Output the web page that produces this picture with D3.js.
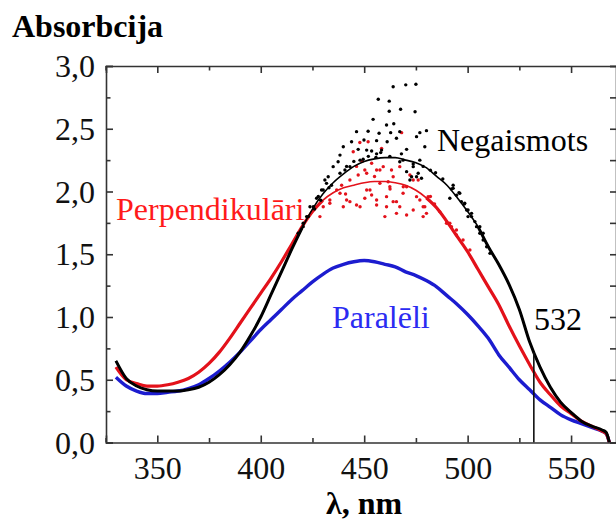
<!DOCTYPE html>
<html>
<head>
<meta charset="utf-8">
<script src="https://cdn.jsdelivr.net/npm/d3@7/dist/d3.min.js"></script>
<style>
  html, body { margin: 0; padding: 0; background: #fff; }
  svg { display: block; }
</style>
</head>
<body>
<svg id="chart" width="616" height="520"></svg>
<script>
// ---------- DATA ----------
const wavelengths = [330,335,340,345,350,355,360,365,370,375,380,385,390,395,400,405,410,415,420,425,430,435,440,445,450,455,460,465,470,475,480,485,490,495,500,505,510,515,520,525,530,535,540,545,550,555,560,565,567,568.5];

const negaismots = [0.65,0.51,0.45,0.42,0.41,0.41,0.41,0.42,0.44,0.48,0.54,0.62,0.72,0.85,1.00,1.18,1.36,1.54,1.71,1.86,1.98,2.07,2.14,2.20,2.24,2.26,2.27,2.27,2.25,2.23,2.19,2.12,2.05,1.95,1.84,1.72,1.56,1.42,1.26,1.06,0.80,0.60,0.44,0.32,0.24,0.17,0.13,0.10,0.08,0.0];

const perpendikulari = [0.60,0.50,0.47,0.45,0.45,0.46,0.48,0.51,0.56,0.63,0.72,0.83,0.95,1.07,1.19,1.31,1.44,1.58,1.72,1.84,1.93,1.99,2.03,2.05,2.07,2.08,2.08,2.07,2.05,2.01,1.95,1.87,1.76,1.64,1.52,1.38,1.24,1.10,0.93,0.77,0.62,0.48,0.38,0.29,0.23,0.17,0.13,0.09,0.07,0.0];

const paraleli = [0.52,0.45,0.41,0.39,0.39,0.40,0.41,0.43,0.46,0.51,0.57,0.64,0.72,0.81,0.90,0.98,1.06,1.14,1.21,1.28,1.34,1.39,1.42,1.44,1.45,1.44,1.42,1.40,1.36,1.33,1.29,1.24,1.17,1.10,1.02,0.93,0.83,0.70,0.60,0.50,0.42,0.34,0.28,0.22,0.18,0.15,0.12,0.09,0.07,0.0];

// scattered measured points (Negaismots) near the maximum
const blackDotsX = [464.0,470.1,475.0,456.8,462.1,462.1,467.6,474.6,454.3,464.3,460.8,446.3,451.9,457.2,462.8,467.2,476.9,480.1,475.3,443.9,449.9,456.0,461.1,465.6,479.3,439.9,447.1,453.6,458.4,470.5,438.3,437.4,449.5,455.7,467.2,473.7,470.5,475.3,477.7,472.1,435.0,432.6,431.0,434.2,429.4,427.0,440.7,443.1,493.0,494.6,491.4,497.0,499.5,501.9,500.2,503.5,505.9,507.5,423.8,422.2,420.5,492.2,495.8,498.4,488.0,484.5,482.0,452.0,458.0,445.0,468.0,426.0,429.0,433.0,
  438.3,441.5,448.0,451.2,456.0,462.4,468.8,473.7,476.9,478.5,476.1,472.9,431.8,430.2,427.8,425.4,423.0,420.5,418.1,493.0,496.2,498.6,500.2,501.9,504.3,505.9,507.5,509.2,510.8];
const blackDotsY = [2.835,2.85,2.855,2.735,2.72,2.64,2.655,2.636,2.575,2.54,2.53,2.477,2.48,2.464,2.469,2.477,2.469,2.485,2.437,2.397,2.41,2.405,2.397,2.424,2.357,2.357,2.336,2.323,2.33,2.336,2.29,2.237,2.257,2.272,2.237,2.198,2.158,2.118,2.105,2.092,2.198,2.118,2.092,2.05,2.012,1.946,2.171,2.198,2.05,1.97,1.946,1.919,1.853,1.826,1.80,1.76,1.72,1.667,1.879,1.80,1.72,2.02,1.99,1.90,2.10,2.15,2.17,2.28,2.31,2.24,2.30,1.86,1.93,2.03,
  2.145,2.20,2.25,2.33,2.30,2.28,2.25,2.22,2.25,2.20,2.145,2.118,2.065,2.012,1.96,1.879,1.80,1.747,1.667,2.025,1.986,1.906,1.853,1.80,1.72,1.667,1.614,1.56,1.507];

// scattered measured points (Perpendikulāri) near the maximum
const redDotsX = [468.1,447.9,451.9,458.4,444.7,453.6,459.2,463.2,467.2,450.3,456.0,447.1,443.1,439.1,436.7,433.4,430.2,451.2,453.6,450.3,456.0,460.8,464.0,467.2,470.5,473.7,478.5,479.3,460.0,465.6,446.3,443.1,439.9,457.6,461.6,472.1,476.1,468.9,476.9,480.9,489.8,492.2,494.6,484.0,486.5,482.0,455.0,462.5,449.0,441.0,
  446.3,451.2,457.6,464.0,470.5,456.0,460.8,465.6,475.3,478.5,480.1,441.5,438.3,433.4,428.6,448.0,452.8,462.4,468.8,473.7,491.4,494.6,497.8,501.1];
const redDotsY = [2.469,2.39,2.397,2.344,2.317,2.225,2.198,2.171,2.198,2.171,2.171,2.131,2.092,2.05,2.012,1.932,1.879,2.012,1.972,1.946,1.892,1.959,1.919,1.879,1.813,1.853,1.80,1.879,1.80,1.826,1.892,1.919,1.879,2.065,2.078,2.131,2.092,2.038,1.932,1.959,1.747,1.72,1.653,1.90,1.84,1.96,2.12,2.02,2.24,1.98,
  2.20,2.145,2.171,2.118,2.038,1.932,1.879,1.919,1.959,1.879,1.826,1.932,1.986,1.906,1.80,1.879,2.012,2.038,1.986,2.092,1.747,1.693,1.614,1.534];

const xTickValues = [325,350,375,400,425,450,475,500,525,550];
const xLabelValues = [350,400,450,500,550];
const yTickValues = [0,0.25,0.5,0.75,1,1.25,1.5,1.75,2,2.25,2.5,2.75,3];
const yLabelValues = [0,0.5,1,1.5,2,2.5,3];
const markerWavelength = 532;

const titleY = "Absorbcija";
const titleX = "λ, nm";
const labelNeg = "Negaismots";
const labelPerp = "Perpendikulāri";
const labelPar = "Paralēli";

// ---------- DRAW ----------
const SERIF = "Liberation Serif";
const FS = 32;
const svg = d3.select("#chart").attr("font-family", SERIF);
const L = 106, R = 617, T = 66, B = 442.5;

const x = d3.scaleLinear().domain([325.2, 572.2]).range([L, R]);
const y = d3.scaleLinear().domain([0, 3]).range([B, T]);

const locale = d3.formatLocale({decimal: ",", thousands: " ", grouping: [3], currency: ["", ""]});
const fmt1 = locale.format(".1f");

const colBlack = "#000000", colRed = "#e3121b", colBlue = "#1c1ccf";

svg.append("clipPath").attr("id", "clip")
  .append("rect").attr("x", L).attr("y", T).attr("width", R - L).attr("height", B - T);

const plot = svg.append("g").attr("clip-path", "url(#clip)");

function seriesData(vals) { return wavelengths.map((w, i) => ({w, v: vals[i]})); }

const line = d3.line().x(d => x(d.w)).y(d => y(d.v)).curve(d3.curveMonotoneX);
const lineDef = d3.line().defined(d => d.on).x(d => x(d.w)).y(d => y(d.v)).curve(d3.curveMonotoneX);

// blue (Paralēli) measured - thick
plot.append("path").datum(seriesData(paraleli))
  .attr("fill", "none").attr("stroke", colBlue).attr("stroke-width", 3.4)
  .attr("stroke-linejoin", "round").attr("d", line);

// red measured thick parts + thin fit
const redD = seriesData(perpendikulari);
plot.append("path").datum(redD.map(d => ({...d, on: d.w <= 432 || d.w >= 480})))
  .attr("fill", "none").attr("stroke", colRed).attr("stroke-width", 3.2)
  .attr("stroke-linejoin", "round").attr("d", lineDef);
plot.append("path").datum(redD)
  .attr("fill", "none").attr("stroke", colRed).attr("stroke-width", 1.6).attr("d", line);
plot.append("g").selectAll("circle").data(redDotsX)
  .join("circle").attr("cx", d => x(d)).attr("cy", (d, i) => y(redDotsY[i]))
  .attr("r", 1.7).attr("fill", colRed);

// black measured thick parts + thin fit
const blackD = seriesData(negaismots);
plot.append("path").datum(blackD.map(d => ({...d, on: d.w <= 420 || d.w >= 505})))
  .attr("fill", "none").attr("stroke", colBlack).attr("stroke-width", 3)
  .attr("stroke-linejoin", "round").attr("d", lineDef);
plot.append("path").datum(blackD)
  .attr("fill", "none").attr("stroke", colBlack).attr("stroke-width", 1.6).attr("d", line);
plot.append("g").selectAll("circle").data(blackDotsX)
  .join("circle").attr("cx", d => x(d)).attr("cy", (d, i) => y(blackDotsY[i]))
  .attr("r", 1.7).attr("fill", colBlack);

// 532 marker line
const i530 = wavelengths.indexOf(530), i535 = wavelengths.indexOf(535);
const vMark = negaismots[i530] + (negaismots[i535] - negaismots[i530]) * (markerWavelength - 530) / 5;
svg.append("line")
  .attr("x1", x(markerWavelength)).attr("x2", x(markerWavelength))
  .attr("y1", y(0)).attr("y2", y(vMark))
  .attr("stroke", "#111").attr("stroke-width", 1.6);

// ---------- AXES ----------
const axisColor = "#333";
function styleAxis(g) {
  g.attr("font-family", SERIF);
  g.select(".domain").attr("stroke", axisColor).attr("stroke-width", 1.6);
  g.selectAll(".tick line").attr("stroke", axisColor).attr("stroke-width", 1.6);
}

// bottom
const gB = svg.append("g").attr("transform", `translate(0,${B})`)
  .call(d3.axisBottom(x).tickValues(xTickValues).tickSizeOuter(0)
    .tickSize(-7).tickFormat(d => xLabelValues.includes(d) ? d : ""));
styleAxis(gB);
gB.selectAll(".tick").filter(d => !xLabelValues.includes(d)).select("line").attr("y2", -4.5);
gB.selectAll(".tick text").attr("y", 36).attr("dy", 0)
  .attr("font-size", FS).attr("fill", "#111");

// top
const gT = svg.append("g").attr("transform", `translate(0,${T})`)
  .call(d3.axisTop(x).tickValues(xTickValues).tickSizeOuter(0).tickSize(-7).tickFormat(""));
styleAxis(gT);
gT.selectAll(".tick").filter(d => !xLabelValues.includes(d)).select("line").attr("y2", 4.5);

// left
const gL = svg.append("g").attr("transform", `translate(${L},0)`)
  .call(d3.axisLeft(y).tickValues(yTickValues).tickSizeOuter(0)
    .tickSize(-7).tickFormat(d => yLabelValues.includes(d) ? fmt1(d) : ""));
styleAxis(gL);
gL.selectAll(".tick").filter(d => !yLabelValues.includes(d)).select("line").attr("x2", 4.5);
gL.selectAll(".tick text").attr("x", -11).attr("dy", "0.33em")
  .attr("font-size", FS).attr("fill", "#111");

// right
const gR = svg.append("g").attr("transform", `translate(${R - 1},0)`)
  .call(d3.axisRight(y).tickValues(yTickValues).tickSizeOuter(0).tickSize(-6).tickFormat(""));
styleAxis(gR);

// ---------- TEXT ----------
svg.append("text").text(titleY).attr("x", 12).attr("y", 37)
  .attr("font-size", FS).attr("font-weight", "bold").attr("fill", "#000");
svg.append("text").text(titleX).attr("x", 364).attr("y", 514)
  .attr("text-anchor", "middle")
  .attr("font-size", FS).attr("font-weight", "bold").attr("fill", "#000");

svg.append("text").text(labelNeg).attr("x", 437).attr("y", 151)
  .attr("font-size", FS).attr("fill", "#000");
svg.append("text").text(labelPerp).attr("x", 116).attr("y", 220)
  .attr("font-size", FS).attr("fill", "#ff1a1a");
svg.append("text").text(labelPar).attr("x", 332).attr("y", 328)
  .attr("font-size", FS).attr("fill", "#2b2bf2");
svg.append("text").text(String(markerWavelength)).attr("x", 534).attr("y", 330)
  .attr("font-size", FS).attr("fill", "#000");
</script>
</body>
</html>
